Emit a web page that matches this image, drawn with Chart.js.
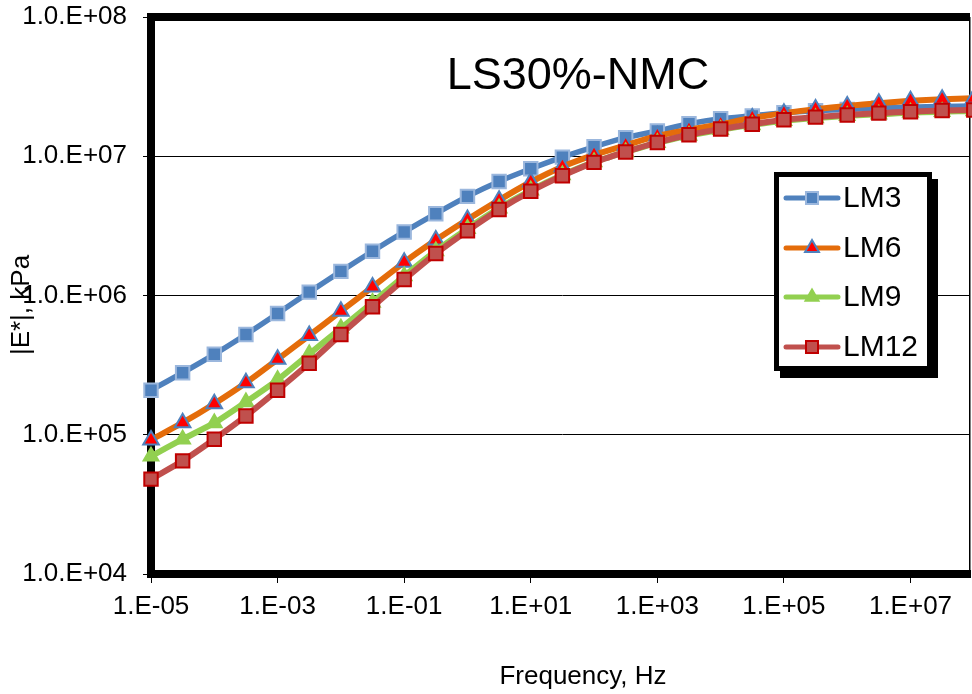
<!DOCTYPE html>
<html>
<head>
<meta charset="utf-8">
<script src="https://cdn.jsdelivr.net/npm/chart.js@4/dist/chart.umd.min.js"></script>
<style>
  html, body { margin: 0; padding: 0; background: #fff; }
  #wrap { width: 972px; height: 694px; }
</style>
</head>
<body>
<div id="wrap"><canvas id="c" width="972" height="694"></canvas></div>
<script>
// Loading frequency, Hz (half-decade steps)
const frequency = [1e-5, 3.16e-5, 1e-4, 3.16e-4, 1e-3, 3.16e-3, 1e-2, 3.16e-2, 1e-1, 3.16e-1,
  1, 3.16, 10, 31.6, 100, 316, 1e3, 3.16e3, 1e4, 3.16e4, 1e5, 3.16e5, 1e6, 3.16e6, 1e7, 3.16e7, 1e8];

// Dynamic modulus |E*|, kPa
const lm3 = [2.09e5, 2.79e5, 3.78e5, 5.25e5, 7.43e5, 1.057e6, 1.49e6, 2.08e6, 2.86e6, 3.87e6,
  5.15e6, 6.59e6, 8.13e6, 9.86e6, 1.17e7, 1.36e7, 1.52e7, 1.71e7, 1.86e7, 1.95e7,
  2.05e7, 2.12e7, 2.17e7, 2.22e7, 2.25e7, 2.28e7, 2.30e7];
const lm6 = [9.18e4, 1.22e5, 1.67e5, 2.36e5, 3.48e5, 5.16e5, 7.71e5, 1.153e6, 1.73e6, 2.50e6,
  3.51e6, 4.84e6, 6.53e6, 8.41e6, 1.023e7, 1.20e7, 1.40e7, 1.55e7, 1.70e7, 1.88e7,
  2.04e7, 2.18e7, 2.30e7, 2.40e7, 2.50e7, 2.57e7, 2.61e7];
const lm9 = [7.0e4, 9.29e4, 1.216e5, 1.72e5, 2.48e5, 3.80e5, 5.82e5, 8.91e5, 1.38e6, 2.09e6,
  3.02e6, 4.24e6, 5.69e6, 7.33e6, 9.08e6, 1.072e7, 1.25e7, 1.41e7, 1.55e7, 1.68e7,
  1.80e7, 1.88e7, 1.95e7, 2.00e7, 2.06e7, 2.09e7, 2.11e7];
const lm12 = [4.80e4, 6.49e4, 9.29e4, 1.365e5, 2.09e5, 3.26e5, 5.25e5, 8.30e5, 1.303e6, 2.00e6,
  2.92e6, 4.14e6, 5.60e6, 7.24e6, 9.04e6, 1.072e7, 1.256e7, 1.426e7, 1.567e7, 1.70e7,
  1.83e7, 1.91e7, 1.98e7, 2.04e7, 2.09e7, 2.13e7, 2.15e7];

const seriesNames = ['LM3', 'LM6', 'LM9', 'LM12'];

// Axis ticks
const xTickValues = [1e-5, 1e-3, 1e-1, 1e1, 1e3, 1e5, 1e7];
const xTickLabels = ['1.E-05', '1.E-03', '1.E-01', '1.E+01', '1.E+03', '1.E+05', '1.E+07'];
const yTickValues = [1e4, 1e5, 1e6, 1e7, 1e8];
const yTickLabels = ['1.0.E+04', '1.0.E+05', '1.0.E+06', '1.0.E+07', '1.0.E+08'];

const chartTitle = 'LS30%-NMC';
const xTitle = 'Frequency, Hz';
const yTitle = '|E*|, kPa';

const FONT = '"Liberation Sans", Arial, sans-serif';

const styles = [
  { line: '#4F81BD', fill: '#4F81BD', edge: '#9BB7DD', shape: 'rect', r: 9.5, lw: 5.5 },
  { line: '#E46C0A', fill: '#FF0000', edge: '#4F81BD', shape: 'triangle', r: 9, lw: 6 },
  { line: '#92D050', fill: '#92D050', edge: '#92D050', shape: 'triangle', r: 8.5, lw: 6 },
  { line: '#C0504D', fill: '#C0504D', edge: '#C00000', shape: 'rect', r: 9.5, lw: 6 }
];
const values = [lm3, lm6, lm9, lm12];

const datasets = values.map((vals, i) => ({
  label: seriesNames[i],
  data: frequency.map((f, k) => ({ x: f, y: vals[k] })),
  borderColor: styles[i].line,
  borderWidth: styles[i].lw,
  backgroundColor: styles[i].fill,
  pointStyle: styles[i].shape,
  pointRadius: styles[i].r,
  pointBackgroundColor: styles[i].fill,
  pointBorderColor: styles[i].edge,
  pointBorderWidth: 2,
  tension: 0.25,
  clip: false,
  order: 3 - i
}));

function marker(ctx, shape, x, y, r, fill, edge) {
  ctx.save();
  ctx.fillStyle = fill;
  ctx.strokeStyle = edge;
  ctx.lineWidth = 2;
  ctx.beginPath();
  if (shape === 'rect') {
    const s = Math.SQRT1_2 * r;
    ctx.rect(x - s, y - s, 2 * s, 2 * s);
  } else {
    for (let k = 0; k < 3; k++) {
      const a = k * 2 * Math.PI / 3;
      const px = x + Math.sin(a) * r, py = y - Math.cos(a) * r;
      if (k === 0) ctx.moveTo(px, py); else ctx.lineTo(px, py);
    }
    ctx.closePath();
  }
  ctx.fill();
  ctx.stroke();
  ctx.restore();
}

const frame = {
  id: 'frame',
  beforeDatasetsDraw(chart) {
    const { ctx, chartArea: a } = chart;
    ctx.save();
    ctx.fillStyle = '#000';
    ctx.fillRect(a.left - 4, a.top - 4, a.right - a.left + 4, 8);
    ctx.fillRect(a.right - 1, a.top, 1.5, a.bottom - a.top);
    ctx.restore();
  },
  afterDraw(chart) {
    const { ctx } = chart;
    ctx.save();
    ctx.fillStyle = '#000';
    // chart title inside the plot
    ctx.font = '45px ' + FONT;
    ctx.textAlign = 'center';
    ctx.textBaseline = 'alphabetic';
    ctx.fillText(chartTitle, 578, 89);
    // axis titles
    ctx.font = '26px ' + FONT;
    ctx.textBaseline = 'middle';
    ctx.fillText(xTitle, 583, 677);
    ctx.save();
    ctx.translate(22, 305);
    ctx.rotate(-Math.PI / 2);
    ctx.fillText(yTitle, 0, 0);
    ctx.restore();

    // legend box with drop shadow
    const L = 774, T = 172, R = 932, B = 371;
    ctx.fillRect(L + 6, T + 7, R - L, B - T);
    ctx.fillStyle = '#fff';
    ctx.fillRect(L, T, R - L, B - T);
    ctx.strokeStyle = '#000';
    ctx.lineWidth = 5;
    ctx.strokeRect(L + 2.5, T + 2.5, R - L - 5, B - T - 5);
    const rows = [198, 248, 297, 347];
    ctx.font = '30px ' + FONT;
    ctx.textAlign = 'left';
    rows.forEach((y, i) => {
      const s = styles[i];
      ctx.strokeStyle = s.line;
      ctx.lineWidth = 5;
      ctx.lineCap = 'round';
      ctx.beginPath();
      ctx.moveTo(786, y);
      ctx.lineTo(838, y);
      ctx.stroke();
      marker(ctx, s.shape, 812, y, s.r - 1, s.fill, s.edge);
      ctx.fillStyle = '#000';
      ctx.fillText(seriesNames[i], 843, y + 1);
    });
    ctx.restore();
  }
};

new Chart(document.getElementById('c'), {
  type: 'line',
  data: { datasets },
  options: {
    responsive: false,
    animation: false,
    layout: { autoPadding: false, padding: { top: 17, right: 2, left: 0, bottom: 0 } },
    plugins: { legend: { display: false }, tooltip: { enabled: false } },
    scales: {
      x: {
        type: 'logarithmic',
        min: 1e-5,
        max: Math.pow(10, 7.94),
        afterBuildTicks(s) { s.ticks = xTickValues.map(v => ({ value: v })); },
        afterFit(s) { s.height = 120; s.paddingLeft = 0; s.paddingRight = 0; },
        ticks: {
          autoSkip: false, maxRotation: 0, padding: 8,
          color: '#000', font: { family: FONT, size: 26 },
          callback: (v, i) => xTickLabels[i]
        },
        grid: { drawOnChartArea: false, drawTicks: true, tickLength: 9, color: '#000', lineWidth: 1 },
        border: { display: true, color: '#000', width: 8 }
      },
      y: {
        type: 'logarithmic',
        min: 1e4,
        max: 1e8,
        afterBuildTicks(s) { s.ticks = yTickValues.map(v => ({ value: v })); },
        afterFit(s) { s.width = 151; s.paddingTop = 0; s.paddingBottom = 0; },
        ticks: {
          autoSkip: false, padding: 16,
          color: '#000', font: { family: FONT, size: 26 },
          callback: (v, i) => yTickLabels[i]
        },
        grid: { drawOnChartArea: true, drawTicks: true, tickLength: 8, color: '#000', lineWidth: 1 },
        border: { display: true, color: '#000', width: 8 }
      }
    }
  },
  plugins: [frame]
});
</script>
</body>
</html>
